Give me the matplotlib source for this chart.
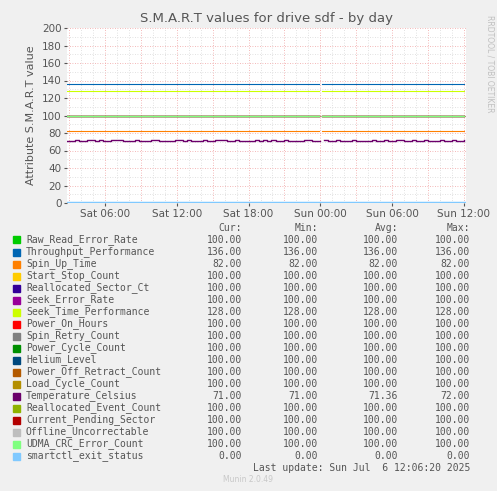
import matplotlib
matplotlib.use("Agg")
import matplotlib.pyplot as plt
import numpy as np

names = ["Raw_Read_Error_Rate","Throughput_Performance","Spin_Up_Time","Start_Stop_Count",
 "Reallocated_Sector_Ct","Seek_Error_Rate","Seek_Time_Performance","Power_On_Hours",
 "Spin_Retry_Count","Power_Cycle_Count","Helium_Level","Power_Off_Retract_Count",
 "Load_Cycle_Count","Temperature_Celsius","Reallocated_Event_Count","Current_Pending_Sector",
 "Offline_Uncorrectable","UDMA_CRC_Error_Count","smartctl_exit_status"]
colors = ["#00CC00","#0066B3","#FF8000","#FFCC00","#330099","#990099","#CCFF00","#FF0000",
 "#808080","#008F00","#00487D","#B35A00","#B38F00","#6B006B","#8FB300","#B30000",
 "#BEBEBE","#80FF80","#80C9FF"]
cur = [100,136,82,100,100,100,128,100,100,100,100,100,100,71,100,100,100,100,0]
mn  = [100,136,82,100,100,100,128,100,100,100,100,100,100,71,100,100,100,100,0]
avg = [100,136,82,100,100,100,128,100,100,100,100,100,100,71.36,100,100,100,100,0]
mx  = [100,136,82,100,100,100,128,100,100,100,100,100,100,72,100,100,100,100,0]

temp = [71,71,72,71,71,72,72,71,72,71,71,72,72,72,71,71,71,72,71,71,
        71,72,72,71,71,71,71,72,72,71,72,71,71,71,72,71,71,72,72,72,
        71,71,72,71,71,71,71,72,71,72,71,72,71,71,72,71,71,71,71,72,
        72,71,71,72,72,71,71,72,71,71,71,72,71,71,71,71,72,71,71,72,
        71,71,72,72,71,71,72,71,71,72,71,71,71,72,71,71,72,71,71,72]
t0, t1 = 2.83, 36.17
tt = np.linspace(t0, 36.0, len(temp))

fig = plt.figure(figsize=(4.97, 4.91), dpi=100, facecolor="#F0F0F0")
ax = fig.add_axes([67/497, 1-203/491, 399/497, 175/491], facecolor="white")
ax.set_xlim(t0, t1); ax.set_ylim(0, 200)

for h in np.arange(3, 37, 1):
    ax.axvline(h, color="#D8D8D8" if h % 3 else "#F0A0A0", lw=0.6, ls=(0, (1, 2)), zorder=0)
for v in range(10, 201, 10):
    ax.axhline(v, color="#D8D8D8" if v % 20 else "#F0A0A0", lw=0.6, ls=(0, (1, 2)), zorder=0)

gap = 24.0
for i, (n, c) in enumerate(zip(names, colors)):
    if n == "Temperature_Celsius":
        y = np.array(temp, float)
        y[np.abs(tt - gap) < 0.17] = np.nan
        ax.step(tt, y, where="post", color=c, lw=1.0, zorder=3)
    else:
        lw = 2.5 if n == "smartctl_exit_status" else 0.8
        ax.plot([t0, gap - 0.1], [cur[i]] * 2, color=c, lw=lw, zorder=2)
        ax.plot([gap + 0.1, 36.0], [cur[i]] * 2, color=c, lw=lw, zorder=2)

ax.set_xticks([6, 12, 18, 24, 30, 36])
ax.set_xticklabels(["Sat 06:00", "Sat 12:00", "Sat 18:00", "Sun 00:00", "Sun 06:00", "Sun 12:00"])
ax.set_yticks(range(0, 201, 20))
ax.tick_params(labelsize=7.5, colors="#555555", length=2, pad=2)
for s in ax.spines.values():
    s.set_visible(False)
ax.set_ylabel("Attribute S.M.A.R.T value", fontsize=8, color="#555555")
ax.set_title("S.M.A.R.T values for drive sdf - by day", fontsize=9.5, color="#555555", pad=4)
fig.text(490/497, 1-15/491, "RRDTOOL / TOBI OETIKER", rotation=270, fontsize=5.5,
         color="#C0C0C0", va="top", ha="center")

mono = dict(family="DejaVu Sans Mono", fontsize=7, color="#555555")
def fy(p): return 1 - p / 491
for x, h in [(242, "Cur:"), (318, "Min:"), (398, "Avg:"), (470, "Max:")]:
    fig.text(x/497, fy(228), h, ha="right", va="center", **mono)
for i, n in enumerate(names):
    y = fy(240 + 12 * i)
    fig.patches.append(plt.Rectangle((13/497, y - 3.5/491), 7/497, 7/491,
                       transform=fig.transFigure, color=colors[i], figure=fig))
    fig.text(26/497, y, n, ha="left", va="center", **mono)
    for x, arr in [(242, cur), (318, mn), (398, avg), (470, mx)]:
        fig.text(x/497, y, f"{arr[i]:.2f}", ha="right", va="center", **mono)
fig.text(470/497, fy(468), "Last update: Sun Jul  6 12:06:20 2025", ha="right", va="center", **mono)
fig.text(248/497, fy(480), "Munin 2.0.49", ha="center", va="center", fontsize=5.5, color="#C8C8C8")
fig.savefig("out.png", dpi=100, facecolor=fig.get_facecolor())
